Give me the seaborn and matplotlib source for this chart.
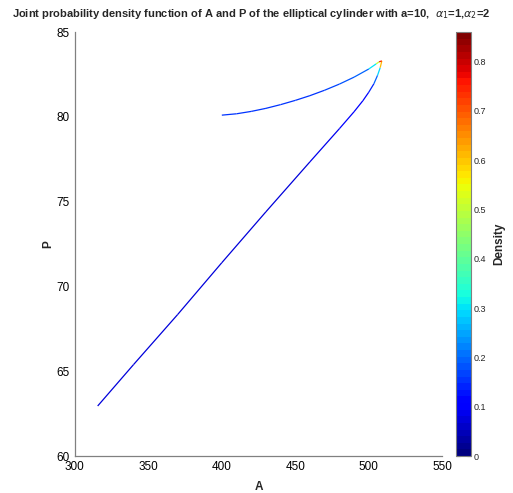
import numpy as np
import matplotlib
matplotlib.use("Agg")
import matplotlib.pyplot as plt
import seaborn as sns
from matplotlib.collections import LineCollection

sns.set_style("white")
plt.rcParams['font.family'] = ['Liberation Sans', 'DejaVu Sans']

# Lower branch (A increasing up to the tip)
A_lower = [315.5, 340.0, 370.0, 400.0, 430.0, 460.0, 480.0, 490.0, 496.0,
           500.0, 503.5, 506.0, 507.8, 508.9]
P_lower = [62.95, 65.40, 68.35, 71.40, 74.40, 77.35, 79.30, 80.30, 80.95,
           81.45, 81.95, 82.45, 82.90, 83.30]
D_lower = [0.07, 0.07, 0.07, 0.07, 0.08, 0.08, 0.09, 0.10, 0.11,
           0.13, 0.16, 0.22, 0.36, 0.86]

# Upper branch (from the tip back to A=400)
A_upper = [508.9, 507.0, 505.0, 500.0, 490.0, 480.0, 470.0, 460.0, 450.0,
           440.0, 430.0, 420.0, 410.0, 400.0]
P_upper = [83.30, 83.24, 83.12, 82.82, 82.34, 81.93, 81.57, 81.25, 80.97,
           80.72, 80.50, 80.32, 80.18, 80.10]
D_upper = [0.86, 0.62, 0.38, 0.22, 0.18, 0.17, 0.16, 0.16, 0.15,
           0.15, 0.15, 0.15, 0.15, 0.15]

A = np.array(A_lower + A_upper[1:])
P = np.array(P_lower + P_upper[1:])
D = np.array(D_lower + D_upper[1:])

pts = np.column_stack([A, P]).reshape(-1, 1, 2)
segs = np.concatenate([pts[:-1], pts[1:]], axis=1)
seg_d = (D[:-1] + D[1:]) / 2

cmap = plt.get_cmap('jet', 64)
norm = plt.Normalize(0, 0.86)

fig = plt.figure(figsize=(5.13, 4.93), dpi=100)
ax = fig.add_axes([0.146, 0.075, 0.716, 0.860])
cax = fig.add_axes([0.889, 0.075, 0.029, 0.860])

lc = LineCollection(segs, cmap=cmap, norm=norm, linewidths=0.9)
lc.set_array(seg_d)
ax.add_collection(lc)

ax.set_xlim(300, 550)
ax.set_ylim(60, 85)
ax.set_xticks([300, 350, 400, 450, 500, 550])
ax.set_yticks([60, 65, 70, 75, 80, 85])
sns.despine(ax=ax)
for s in ['left', 'bottom']:
    ax.spines[s].set_color('#808080')
    ax.spines[s].set_linewidth(0.9)
ax.tick_params(direction='in', length=4, color='#808080', labelsize=8.5,
               labelcolor='black')
ax.set_xlabel('A', fontsize=8.5, fontweight='bold', labelpad=6)
ax.set_ylabel('P', fontsize=8.5, fontweight='bold', labelpad=2)

fig.text(0.49, 0.972,
         r'Joint probability density function of A and P of the elliptical cylinder with a=10,  $\alpha_1$=1,$\alpha_2$=2',
         fontsize=8, fontweight='bold', ha='center', va='center')

cb = fig.colorbar(plt.cm.ScalarMappable(norm=norm, cmap=cmap), cax=cax)
cb.set_ticks([0, 0.1, 0.2, 0.3, 0.4, 0.5, 0.6, 0.7, 0.8])
cb.set_ticklabels(['0', '0.1', '0.2', '0.3', '0.4', '0.5', '0.6', '0.7', '0.8'])
cb.ax.tick_params(direction='in', length=3, labelsize=6.5, left=True, right=True,
                  color='#404040', pad=2)
cb.outline.set_edgecolor('#808080')
cb.outline.set_linewidth(0.8)
cb.set_label('Density', fontsize=8.5, fontweight='bold', labelpad=5)

fig.savefig('out.png', dpi=100)
